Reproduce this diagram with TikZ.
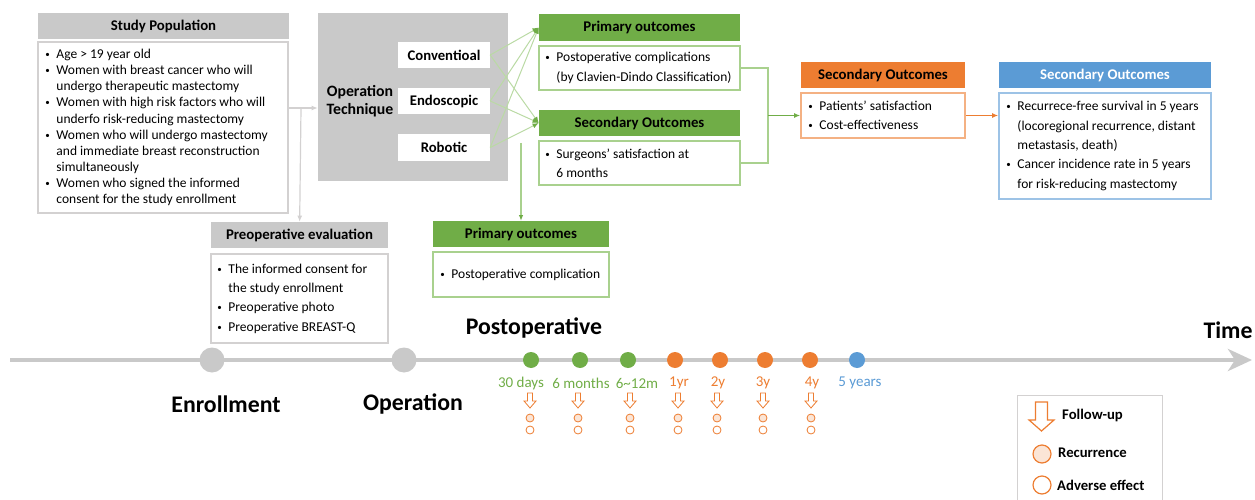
\documentclass[tikz,border=0pt]{standalone}
\usepackage{fontspec}
\setmainfont{Carlito}
\usepackage{tikz}
\usetikzlibrary{arrows.meta}
\tikzset{>={Latex[length=2.2mm,width=1.8mm]}}
\definecolor{hdgray}{HTML}{C9C9C9}
\definecolor{lngray}{HTML}{D3D1D1}
\definecolor{hdgreen}{HTML}{70AD47}
\definecolor{lngreen}{HTML}{A9D18E}
\definecolor{hdorange}{HTML}{ED7D31}
\definecolor{lnorange}{HTML}{F4B183}
\definecolor{hdblue}{HTML}{5B9BD5}
\definecolor{lnblue}{HTML}{9DC3E6}
\definecolor{peach}{HTML}{FBE5D6}
\tikzstyle{hd} = [inner sep=0pt, minimum height=26pt,
    font=\fontsize{14.8}{16}\selectfont\bfseries]
\tikzstyle{box} = [draw, line width=1.5pt, inner sep=0pt]
\tikzstyle{list} = [align=left, inner sep=0pt, anchor=west,
    font=\fontsize{13.5}{19.3}\selectfont]
\tikzstyle{tech} = [fill=white, minimum width=92pt, minimum height=26pt,
    inner sep=0pt, font=\fontsize{14.7}{16}\selectfont\bfseries]
\tikzstyle{big} = [font=\fontsize{23.8}{26}\selectfont\bfseries]
\tikzstyle{tdot} = [circle, inner sep=0pt, minimum size=16pt]
\tikzstyle{fuline} = [draw=hdorange, line width=0.8pt, fill=white]
\newcommand{\bul}{\makebox[0pt][r]{\raisebox{1pt}{\fontsize{9}{9}\selectfont\textbullet}\hspace{6.5pt}}}

\begin{document}
\begin{tikzpicture}[x=1pt,y=-1pt]
\useasboundingbox (0,0) rectangle (1255,500);
    %study population
    \node[hd, fill=hdgray, minimum width=251pt] (pophead) at (163.5,26) {Study Population};
    \node[box, draw=lngray, minimum width=250pt, minimum height=171pt] (popbox) at (163,127.5) {};
    \node[list, font=\fontsize{13.5}{16.1}\selectfont] (poptext) at ([xshift=19pt]popbox.west)
        {\bul Age > 19 year old\\
         \bul Women with breast cancer who will\\
         undergo therapeutic mastectomy\\
         \bul Women with high risk factors who will\\
         underfo risk-reducing mastectomy\\
         \bul Women who will undergo mastectomy\\
         and immediate breast reconstruction\\
         simultaneously\\
         \bul Women who signed the informed\\
         consent for the study enrollment};
    %operation technique
    \node[fill=hdgray, minimum width=190pt, minimum height=168pt, inner sep=0pt] (optech) at (413,97) {};
    \node[align=center, inner sep=0pt, font=\fontsize{15.8}{18.5}\selectfont\bfseries] (optxt) at (360,101) {Operation\\Technique};
    \node[tech] (conv) at (444,55) {Conventioal};
    \node[tech] (endo) at (444,101) {Endoscopic};
    \node[tech] (robo) at (444,147.5) {Robotic};
    %outcomes after operation
    \node[hd, fill=hdgreen, minimum width=201pt, minimum height=27pt] (prihead) at (639.5,27.5) {Primary outcomes};
    \node[box, draw=lngreen, minimum width=201pt, minimum height=44pt] (pribox) at (639.5,68) {};
    \node[list] (pritext) at ([xshift=18pt]pribox.west)
        {\bul Postoperative complications\\
         (by Clavien-Dindo Classification)};
    \node[hd, fill=hdgreen, minimum width=201pt] (sechead) at (639.5,123) {Secondary Outcomes};
    \node[box, draw=lngreen, minimum width=201pt, minimum height=44pt] (secbox) at (639.5,163) {};
    \node[list] (sectext) at ([xshift=18pt]secbox.west)
        {\bul Surgeons’ satisfaction at\\
         6 months};
    \node[hd, fill=hdorange, minimum width=164pt] (orhead) at (883,75) {Secondary Outcomes};
    \node[box, draw=lnorange, minimum width=164pt, minimum height=45pt] (orbox) at (883,115.5) {};
    \node[list] (ortext) at ([xshift=19pt]orbox.west)
        {\bul Patients’ satisfaction\\
         \bul Cost-effectiveness};
    \node[hd, fill=hdblue, text=white, minimum width=212pt] (bluhead) at (1105,75) {Secondary Outcomes};
    \node[box, draw=lnblue, minimum width=212pt, minimum height=106pt] (blubox) at (1105,146) {};
    \node[list] (blutext) at ([xshift=19pt]blubox.west)
        {\bul Recurrece-free survival in 5 years\\
         (locoregional recurrence, distant\\
         metastasis, death)\\
         \bul Cancer incidence rate in 5 years\\
         for risk-reducing mastectomy};
    \node[hd, fill=hdgreen, minimum width=176pt] (pri2head) at (521,234) {Primary outcomes};
    \node[box, draw=lngreen, minimum width=176pt, minimum height=45pt] (pri2box) at (521,274.5) {};
    \node[list] (pri2text) at ([xshift=19pt]pri2box.west) {\bul Postoperative complication};
    %preoperative evaluation
    \node[hd, fill=hdgray, minimum width=177pt] (prehead) at (299.5,235) {Preoperative evaluation};
    \node[box, draw=lngray, minimum width=177pt, minimum height=89pt] (prebox) at (299.5,298.5) {};
    \node[list] (pretext) at ([xshift=18pt]prebox.west)
        {\bul The informed consent for\\
         the study enrollment\\
         \bul Preoperative photo\\
         \bul Preoperative BREAST-Q};
    %connectors
    \coordinate (split) at (301,108);
    \draw[lngray, line width=1.2pt, ->] (popbox.east |- split) -- (optech.west |- split);
    \draw[lngray, line width=1.2pt, ->] (split) -- (prehead);
    \foreach \t in {conv,endo,robo}
    \foreach \o in {prihead,sechead}
    {\draw[lngreen!80, line width=1pt, -{Latex[length=2.2mm,width=1.8mm,color=hdgreen]}] (\t.east) -- (\o.west);}
    \coordinate (tap) at (521,143);
    \draw[lngreen, line width=1.2pt, -{Latex[length=2mm,width=1.6mm,color=hdgreen]}] (tap) -- (pri2head);
    \coordinate (join) at (768,115.5);
    \draw[lngreen, line width=1.5pt] (pribox.east) -| (join) |- (secbox.east);
    \draw[hdgreen, line width=1.5pt, ->] (join) -- (orbox.west);
    \draw[hdorange, line width=1.5pt, ->] (orbox.east) -- (orbox.east -| blubox.west);
    %time line
    \coordinate (tstart) at (10,360);
    \coordinate (tend) at (1252,360);
    \draw[hdgray, line width=4.5pt, -{Stealth[length=24pt,width=22pt,inset=7pt]}] (tstart) -- (tend);
    \node[tdot, fill=hdgray, minimum size=25pt] (enroll) at (212,360) {};
    \node[tdot, fill=hdgray, minimum size=25pt] (oper) at (404,360) {};
    \node[big] (enrolltxt) at (226,404) {Enrollment};
    \node[big] (opertxt) at (413,404) {Operation};
    \node[big] (postop) at (534,328) {Postoperative};
    \node[big] (time) at (1228,330) {Time};
    \foreach \x/\lx/\txt/\col in {531/521/30 days/hdgreen, 580/581/6 months/hdgreen,
        628/637/6\textasciitilde12m/hdgreen, 675/679/1yr/hdorange, 720/718/2y/hdorange,
        765/763/3y/hdorange, 810/812/4y/hdorange, 857/860/5 years/hdblue}
    {\node[tdot, fill=\col] (d\x) at (\x,360) {};
    \node[text=\col, inner sep=0pt, font=\fontsize{15}{17}\selectfont] (l\x) at (\lx,383) {\txt};}
    %follow-up marks
    \foreach \x in {530,578,630,678,717,763,811}
    {\draw[fuline] (\x,393) ++(-2.5,0) -- ++(0,8) -- ++(-3.5,0) -- ++(6,7)
        -- ++(6,-7) -- ++(-3.5,0) -- ++(0,-8) -- cycle;
    \node[circle, fuline, fill=peach, minimum size=8pt, inner sep=0pt] (r\x) at (\x,418) {};
    \node[circle, fuline, minimum size=8pt, inner sep=0pt] (a\x) at (\x,430) {};}
    %legend
    \node[draw=lngray, line width=1.2pt, minimum width=145pt, minimum height=110pt,
        inner sep=0pt, anchor=north west] (legend) at (1017,395) {};
    \draw[fuline, line width=1.2pt] (1035.5,402) -- (1047.5,402) -- (1047.5,420) -- (1054,420)
        -- (1041.5,431) -- (1029,420) -- (1035.5,420) -- cycle;
    \node[circle, fuline, line width=1.2pt, fill=peach, minimum size=18pt, inner sep=0pt] (recdot) at (1042,454) {};
    \node[circle, fuline, line width=1.2pt, minimum size=18pt, inner sep=0pt] (advdot) at (1042,485) {};
    \node[anchor=west, inner sep=0pt, font=\fontsize{14.7}{16}\selectfont\bfseries] (fulab) at (1062,415) {Follow-up};
    \node[anchor=west, inner sep=0pt, font=\fontsize{14.7}{16}\selectfont\bfseries] (reclab) at (1058,453) {Recurrence};
    \node[anchor=west, inner sep=0pt, font=\fontsize{14.7}{16}\selectfont\bfseries] (advlab) at (1057,485) {Adverse effect};
\end{tikzpicture}
\end{document}
